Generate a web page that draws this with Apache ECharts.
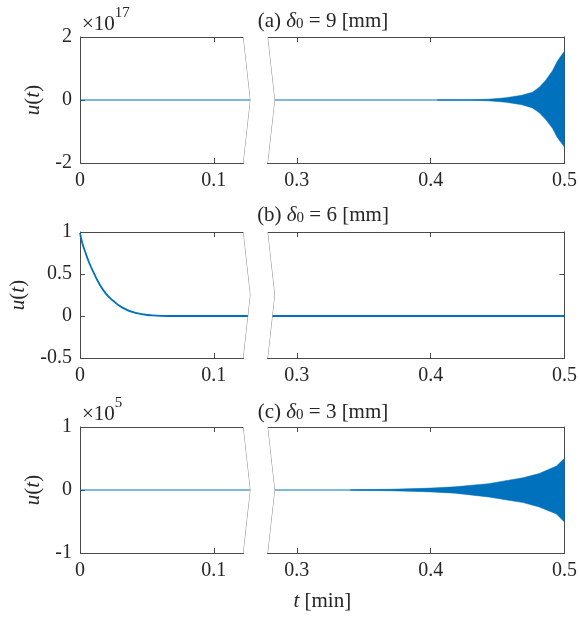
<!DOCTYPE html>
<html>
<head>
<meta charset="utf-8">
<script src="https://cdn.jsdelivr.net/npm/echarts@6/dist/echarts.min.js"></script>
<style>
  html, body { margin: 0; padding: 0; background: #fff; }
  #container { width: 580px; height: 617px; }
</style>
</head>
<body>
<div id="container"></div>
<script>
// time axis [min], broken between these two values
var breakStart = 0.122;
var breakEnd = 0.278;
var tTicks = [0, 0.1, 0.3, 0.4, 0.5];

// (a) delta0 = 9 mm, u(t) in units of 1e17, envelope of the oscillation
var tEnvA = [0.405, 0.431, 0.443, 0.456, 0.468, 0.476, 0.481, 0.486, 0.491, 0.4945, 0.498, 0.5];
var upA   = [0.005, 0.01, 0.025, 0.07, 0.15, 0.25, 0.40, 0.63, 0.93, 1.22, 1.44, 1.55];
var lowA  = [-0.005, -0.01, -0.025, -0.07, -0.15, -0.25, -0.40, -0.62, -0.9, -1.18, -1.38, -1.5];

// (b) delta0 = 6 mm, decaying response
var tB = [0, 0.0017, 0.0042, 0.0067, 0.0104, 0.0142, 0.0192, 0.0241, 0.0316, 0.0415, 0.054, 0.066, 0.5];
var uB = [0.99, 0.87, 0.75, 0.64, 0.51, 0.39, 0.27, 0.19, 0.10, 0.036, 0.008, 0, 0];

// (c) delta0 = 3 mm, u(t) in units of 1e5, envelope of the oscillation
var tEnvC = [0.34, 0.37, 0.4, 0.418, 0.443, 0.469, 0.481, 0.494, 0.5];
var upC   = [0.005, 0.012, 0.03, 0.05, 0.10, 0.195, 0.26, 0.38, 0.505];
var lowC  = [-0.005, -0.012, -0.03, -0.05, -0.11, -0.2, -0.27, -0.38, -0.51];

var yMin = [-2, -0.5, -1];
var yMax = [2, 1, 1];
var yStep = [2, 0.5, 1];

var blue = '#0072BD';
var axisColor = '#4a4a4a';
var serif = '"Liberation Serif", "DejaVu Serif", serif';

function pairs(xs, ys) {
    var out = [];
    for (var i = 0; i < xs.length; i++) out.push([xs[i], ys[i]]);
    return out;
}

var grids = [
    {left: 80, right: 15, top: 37, height: 126},
    {left: 80, right: 15, top: 232, height: 126},
    {left: 80, right: 15, top: 427, height: 126}
];

var xAxes = [], yAxes = [];
for (var g = 0; g < 3; g++) {
    ['bottom', 'top'].forEach(function (pos) {
        var isBottom = pos === 'bottom';
        var ax = {
            type: 'value', gridIndex: g, position: pos, min: 0, max: 0.5,
            breaks: [{start: breakStart, end: breakEnd, gap: 0.018}],
            breakArea: {
                show: isBottom,
                expandOnClick: false,
                zigzagAmplitude: 7,
                zigzagMinSpan: 63,
                zigzagMaxSpan: 63,
                zigzagZ: 100,
                itemStyle: {color: '#fff', borderColor: '#8c8c8c', borderWidth: 1, borderType: 'solid', opacity: 1}
            },
            axisLine: {show: true, onZero: false, lineStyle: {color: axisColor, width: 1}},
            axisTick: {show: true, inside: true, length: 5, customValues: tTicks, lineStyle: {color: axisColor}},
            axisLabel: {
                show: isBottom, customValues: tTicks, margin: 8,
                fontFamily: serif, fontSize: 20, color: '#262626'
            },
            splitLine: {show: false}
        };
        if (g === 2 && isBottom) {
            ax.name = '{i|t} [min]';
            ax.nameLocation = 'middle';
            ax.nameGap = 38;
            ax.nameTextStyle = {
                fontFamily: serif, fontSize: 21, color: '#262626',
                rich: {i: {fontFamily: serif, fontSize: 21, fontStyle: 'italic', color: '#262626'}}
            };
        }
        xAxes.push(ax);
    });
    ['left', 'right'].forEach(function (pos) {
        var isLeft = pos === 'left';
        var ax = {
            type: 'value', gridIndex: g, position: pos,
            min: yMin[g], max: yMax[g], interval: yStep[g],
            axisLine: {show: true, onZero: false, lineStyle: {color: axisColor, width: 1}},
            axisTick: {show: true, inside: true, length: 5, lineStyle: {color: axisColor}},
            axisLabel: {show: isLeft, margin: 8, fontFamily: serif, fontSize: 20, color: '#262626'},
            splitLine: {show: false}
        };
        if (isLeft) {
            ax.name = '{i|u}({i|t})';
            ax.nameLocation = 'middle';
            ax.nameGap = 36;
            ax.nameRotate = 90;
            ax.nameTextStyle = {
                fontFamily: serif, fontSize: 21, color: '#262626',
                rich: {i: {fontFamily: serif, fontSize: 21, fontStyle: 'italic', color: '#262626'}}
            };
        }
        yAxes.push(ax);
    });
}

function lineSeries(g, data, width, smooth) {
    return {
        type: 'line', xAxisIndex: 2 * g, yAxisIndex: 2 * g, data: data,
        showSymbol: false, silent: true, z: 2, smooth: smooth || false,
        lineStyle: {color: blue, width: width}
    };
}
function bandSeries(g, data) {
    return {
        type: 'line', xAxisIndex: 2 * g, yAxisIndex: 2 * g, data: data,
        showSymbol: false, silent: true, z: 3,
        lineStyle: {color: blue, width: 0.5},
        areaStyle: {color: blue, opacity: 1, origin: 0}
    };
}

var series = [
    lineSeries(0, [[0, 0], [0.5, 0]], 1),
    bandSeries(0, pairs(tEnvA, upA)),
    bandSeries(0, pairs(tEnvA, lowA)),
    lineSeries(1, pairs(tB, uB), 1.8, true),
    lineSeries(2, [[0, 0], [0.5, 0]], 1),
    bandSeries(2, pairs(tEnvC, upC)),
    bandSeries(2, pairs(tEnvC, lowC))
];

var txt = {fontFamily: serif, fontSize: 21, fill: '#262626'};
var rich = {
    i: {fontFamily: serif, fontSize: 21, fontStyle: 'italic', verticalAlign: 'bottom', lineHeight: 24},
    n: {fontFamily: serif, fontSize: 21, verticalAlign: 'bottom', lineHeight: 24},
    sub: {fontFamily: serif, fontSize: 15, verticalAlign: 'bottom', lineHeight: 20},
    sup: {fontFamily: serif, fontSize: 15, verticalAlign: 'top', lineHeight: 29}
};
function panelTitle(label, d, y) {
    return {
        type: 'text', x: 323, y: y,
        style: Object.assign({
            text: '{n|' + label + ' }{i|δ}{sub|0}{n| = ' + d + ' [mm]}',
            textAlign: 'center', textVerticalAlign: 'middle', rich: rich
        }, txt)
    };
}
function multiplier(exp, y) {
    return {
        type: 'text', x: 82, y: y,
        style: Object.assign({
            text: '{n|×10}{sup|' + exp + '}',
            textAlign: 'left', textVerticalAlign: 'middle', rich: rich
        }, txt)
    };
}

var dom = document.getElementById('container');
var myChart = echarts.init(dom, null, {renderer: 'canvas'});
var option = {
    animation: false,
    backgroundColor: '#fff',
    grid: grids,
    xAxis: xAxes,
    yAxis: yAxes,
    series: series,
    graphic: [
        panelTitle('(a)', 9, 20),
        panelTitle('(b)', 6, 214),
        panelTitle('(c)', 3, 411),
        multiplier('17', 20),
        multiplier('5', 410)
    ]
};
myChart.setOption(option);
</script>
</body>
</html>
